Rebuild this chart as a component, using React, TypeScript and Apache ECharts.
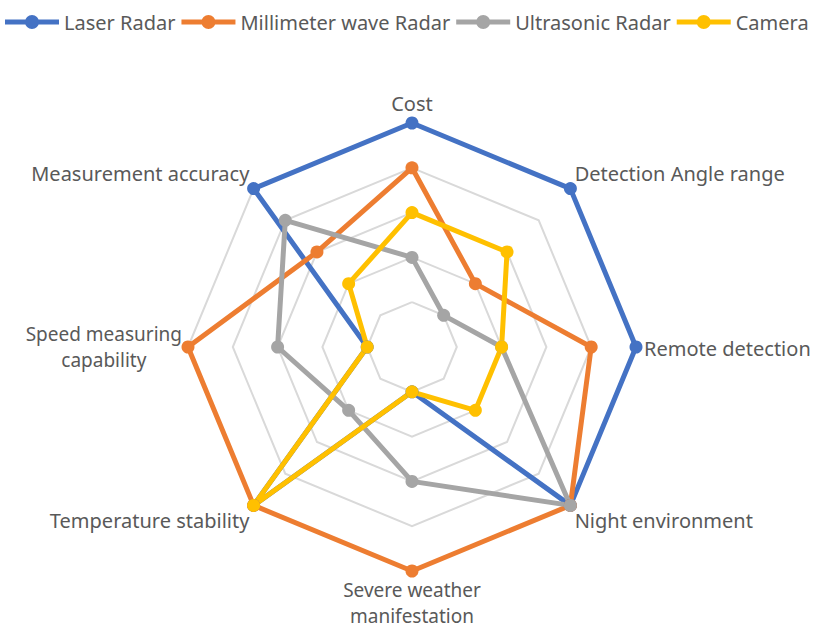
import React, { useEffect, useRef } from "react";
import * as echarts from "echarts";

const indicators = [
  "Cost",
  "Measurement accuracy",
  "Speed measuring\ncapability",
  "Temperature stability",
  "Severe weather\nmanifestation",
  "Night environment",
  "Remote detection",
  "Detection Angle range",
];
const seriesNames = ["Laser Radar", "Millimeter wave Radar", "Ultrasonic Radar", "Camera"];
const laserRadar = [5, 5, 1, 5, 1, 5, 5, 5];
const millimeterRadar = [4, 3, 5, 5, 5, 5, 4, 2];
const ultrasonicRadar = [2, 4, 3, 2, 3, 5, 2, 1];
const camera = [3, 2, 1, 5, 1, 2, 2, 3];
const colors = ["#4472C4", "#ED7D31", "#A5A5A5", "#FFC000"];
const maxValue = 5;

const FONT = "'Noto Sans', sans-serif";

export default function App() {
  const ref = useRef<HTMLDivElement>(null);
  useEffect(() => {
    if (!ref.current) return;
    const chart = echarts.init(ref.current, undefined, { renderer: "svg" });
    const values = [laserRadar, millimeterRadar, ultrasonicRadar, camera];
    const tagFor = (name: string) => {
      if (name === "Measurement accuracy" || name === "Detection Angle range") return "up";
      if (name === "Temperature stability" || name === "Night environment") return "down";
      if (name === "Cost") return "c";
      if (name.indexOf("\n") >= 0) return "m";
      return "r";
    };
    chart.setOption({
      animation: false,
      color: colors,
      legend: {
        left: 5,
        top: 12,
        padding: 0,
        itemWidth: 54,
        itemHeight: 14,
        itemGap: 6,
        icon: "path://M0,4.5H54V9.5H0Z M20,7A7,7 0 1,1 34,7A7,7 0 1,1 20,7Z",
        textStyle: { color: "#595959", fontSize: 20, fontFamily: FONT },
        data: seriesNames,
      },
      radar: {
        center: [412, 347],
        radius: 224,
        shape: "polygon",
        splitNumber: 5,
        nameGap: 6,
        indicator: indicators.map((n) => ({ name: n, max: maxValue, min: 0 })),
        axisName: {
          color: "#595959",
          fontSize: 20,
          fontFamily: FONT,
          formatter: (name: string) =>
            name
              .split("\n")
              .map((l) => `{${tagFor(name)}|${l}}`)
              .join("\n"),
          rich: {
            c: { fontSize: 20, fontFamily: FONT, color: "#595959", padding: [0, 0, 4, 0] },
            r: { fontSize: 20, fontFamily: FONT, color: "#595959", padding: [2, 0, 0, 2] },
            m: { fontSize: 19, fontFamily: FONT, color: "#595959", align: "center", lineHeight: 26 },
            up: { fontSize: 20, fontFamily: FONT, color: "#595959", padding: [0, 0, 22, 0] },
            down: { fontSize: 20, fontFamily: FONT, color: "#595959", padding: [22, 0, 0, 0] },
          },
        },
        splitLine: { lineStyle: { color: "#D9D9D9", width: 2 } },
        splitArea: { show: false },
        axisLine: { show: false },
        axisTick: { show: false },
        axisLabel: { show: false },
      },
      series: [
        {
          type: "radar",
          symbol: "circle",
          symbolSize: 13,
          data: seriesNames.map((name, i) => ({
            name,
            value: values[i],
            itemStyle: { color: colors[i] },
            lineStyle: { color: colors[i], width: 5 },
          })),
        },
      ],
    });
    return () => chart.dispose();
  }, []);
  return (
    <div
      ref={ref}
      style={{ position: "fixed", left: 0, top: 0, width: 819, height: 630, background: "#fff" }}
    />
  );
}
